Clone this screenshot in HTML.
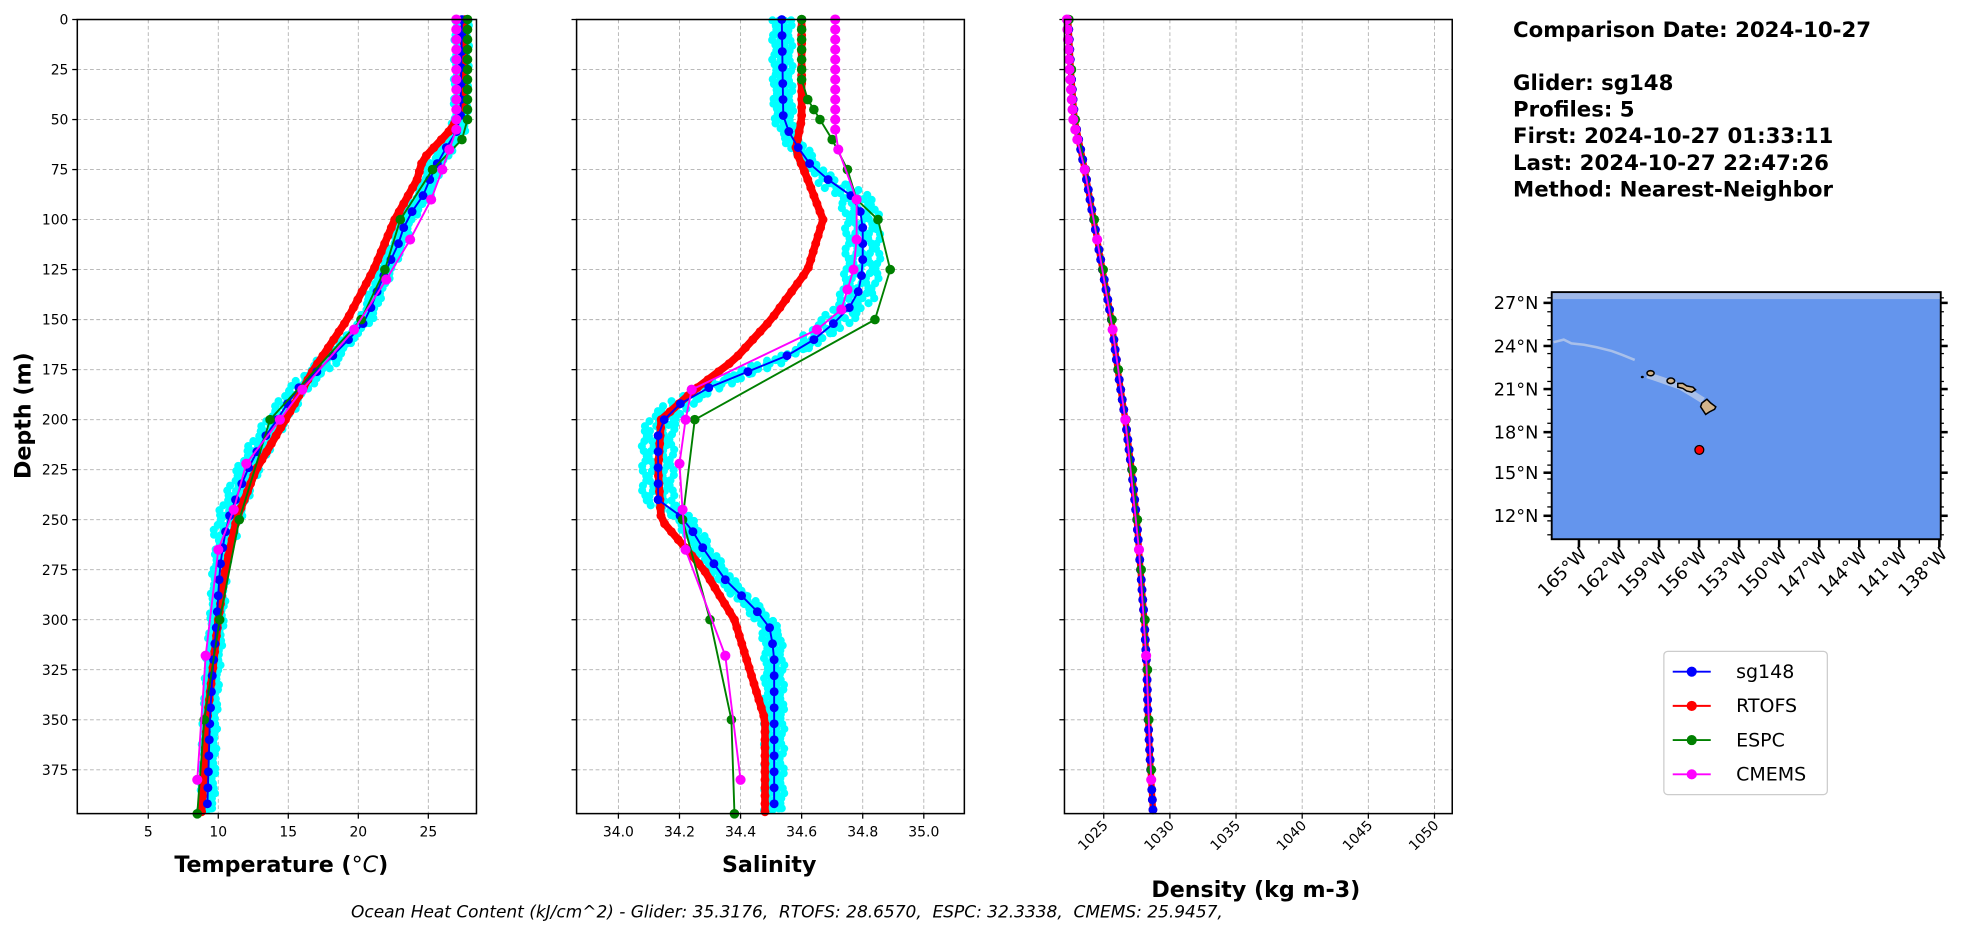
<!DOCTYPE html>
<html><head><meta charset="utf-8"><style>
html,body{margin:0;padding:0;background:#fff;}
svg{display:block;font-family:"DejaVu Sans","Liberation Sans",sans-serif;}
</style></head><body>
<svg id="s" width="1987" height="934" viewBox="0 0 1568 737" preserveAspectRatio="none" xmlns="http://www.w3.org/2000/svg">
<rect width="1568" height="737" fill="#fff"/>
<g id="g"></g>
<g font-weight="bold" font-size="16.8" fill="#000">
<text x="1194" y="29">Comparison Date: 2024-10-27</text>
<text x="1194" y="71">Glider: sg148</text>
<text x="1194" y="92">Profiles: 5</text>
<text x="1194" y="113">First: 2024-10-27 01:33:11</text>
<text x="1194" y="134">Last: 2024-10-27 22:47:26</text>
<text x="1194" y="155">Method: Nearest-Neighbor</text>
</g>
<g>
<rect x="1224.5" y="230.5" width="307" height="195" fill="#6495ED"/>
<rect x="1225" y="231" width="306" height="5" fill="#9fb8e8"/>
<path d="M1226,270 l8,-2 l6,3 l10,1 l10,2 l12,3 l8,3 l10,4" stroke="#a9c0ea" stroke-width="2" fill="none"/>
<path d="M1300,296 l12,4 l14,5 l10,6 l8,5" stroke="#a9c0ea" stroke-width="5" fill="none"/>
<ellipse cx="1302.5" cy="294.5" rx="2.8" ry="2" fill="#d2b48c" stroke="#000" stroke-width="1.2"/>
<ellipse cx="1296" cy="297.5" rx="1.2" ry="1" fill="#000"/>
<ellipse cx="1318.5" cy="300.5" rx="3" ry="2.2" fill="#d2b48c" stroke="#000" stroke-width="1.2"/>
<path d="M1324,302.5 l4,0 l3,2 l5,1 l2,2 l-3,2 l-4,-1 l-3,-2 l-4,-1z" fill="#d2b48c" stroke="#000" stroke-width="1.2"/>
<path d="M1343,318 l4,-3 l3,3 l4,3 l-1,2 l-4,2 l-3,2 l-2,-3 l-2,-3z" fill="#d2b48c" stroke="#000" stroke-width="1.2"/>
<circle cx="1341" cy="355" r="3.5" fill="#f00" stroke="#000" stroke-width="1"/>
<rect x="1224.5" y="230.5" width="307" height="195" fill="none" stroke="#000" stroke-width="1.5"/>
</g>
<g id="map"></g>
<g>
<rect x="1313" y="514" width="129" height="113" rx="3" fill="#fff" stroke="#ccc"/>
<g font-size="15" fill="#000">
<line x1="1320" y1="530" x2="1350" y2="530" stroke="#00f" stroke-width="1.5"/><circle cx="1335" cy="530" r="4" fill="#00f"/><text x="1370" y="535">sg148</text>
<line x1="1320" y1="557" x2="1350" y2="557" stroke="#f00" stroke-width="1.5"/><circle cx="1335" cy="557" r="4" fill="#f00"/><text x="1370" y="562">RTOFS</text>
<line x1="1320" y1="584" x2="1350" y2="584" stroke="#008000" stroke-width="1.5"/><circle cx="1335" cy="584" r="4" fill="#008000"/><text x="1370" y="589">ESPC</text>
<line x1="1320" y1="611" x2="1350" y2="611" stroke="#f0f" stroke-width="1.5"/><circle cx="1335" cy="611" r="4" fill="#f0f"/><text x="1370" y="616">CMEMS</text>
</g></g>
<text x="621" y="724" font-size="13.4" font-style="italic" text-anchor="middle" xml:space="preserve">Ocean Heat Content (kJ/cm^2) - Glider: 35.3176,  RTOFS: 28.6570,  ESPC: 32.3338,  CMEMS: 25.9457,</text>
<text x="222" y="688" font-size="17.5" font-weight="bold" text-anchor="middle">Temperature (<tspan font-style="italic" font-weight="normal">°C</tspan>)</text>
<text x="607" y="688" font-size="17.5" font-weight="bold" text-anchor="middle">Salinity</text>
<text x="991" y="708" font-size="17.5" font-weight="bold" text-anchor="middle">Density (kg m-3)</text>
<text transform="translate(24,328) rotate(-90)" font-size="17.5" font-weight="bold" text-anchor="middle">Depth (m)</text>
</svg>
<script>
const NS="http://www.w3.org/2000/svg";
const g=document.getElementById('g');
function el(t,a,p){const e=document.createElementNS(NS,t);for(const k in a)e.setAttribute(k,a[k]);(p||g).appendChild(e);return e;}
const Y0=15.4, PY=1.5787; const yD=d=>Y0+d*PY; const BOT=642;
const panels=[
 {x0:61,x1:376,f:v=>117+(v-5)*11.05,ticks:[5,10,15,20,25],lab:v=>String(v),rot:false},
 {x0:455,x1:761,f:v=>488+(v-34)*241,ticks:[34.0,34.2,34.4,34.6,34.8,35.0],lab:v=>v.toFixed(1),rot:false},
 {x0:840,x1:1146,f:v=>871+(v-1025)*10.44,ticks:[1025,1030,1035,1040,1045,1050],lab:v=>String(v),rot:true}
];
panels.forEach((p,i)=>{
 for(let d=0;d<=375;d+=25){el('line',{x1:p.x0,x2:p.x1,y1:yD(d),y2:yD(d),stroke:'#b0b0b0','stroke-width':0.7,'stroke-dasharray':'3,2'});
  el('line',{x1:p.x0-4,x2:p.x0,y1:yD(d),y2:yD(d),stroke:'#000','stroke-width':1});
  if(i==0){const t=el('text',{x:p.x0-7,y:yD(d)+4,'font-size':11,'text-anchor':'end'});t.textContent=d;}}
 p.ticks.forEach(v=>{const x=p.f(v);el('line',{x1:x,x2:x,y1:Y0,y2:BOT,stroke:'#b0b0b0','stroke-width':0.7,'stroke-dasharray':'3,2'});
  el('line',{x1:x,x2:x,y1:BOT,y2:BOT+4,stroke:'#000','stroke-width':1});
  if(p.rot){const t=el('text',{transform:`translate(${x+4},${BOT+10}) rotate(-45)`,'font-size':11,'text-anchor':'end'});t.textContent=p.lab(v);}
  else{const t=el('text',{x:x,y:BOT+18,'font-size':11,'text-anchor':'middle'});t.textContent=p.lab(v);}});
});
function pts(p,arr){return arr.map(a=>[p.f(a[1]),yD(a[0])]);}
function line(P,c,w,mr){el('polyline',{points:P.map(q=>q.join(',')).join(' '),fill:'none',stroke:c,'stroke-width':w,'stroke-linejoin':'round'});
 if(mr)P.forEach(q=>el('circle',{cx:q[0],cy:q[1],r:mr,fill:c}));}
function range(a,b,s,fn){const r=[];for(let d=a;d<=b;d+=s)r.push([d,fn(d)]);return r;}
function interp(arr,d){for(let i=1;i<arr.length;i++)if(d<=arr[i][0]){const a=arr[i-1],b=arr[i];return a[1]+(b[1]-a[1])*(d-a[0])/(b[0]-a[0]);}return arr[arr.length-1][1];}
function dens(arr,s){return range(0,397,s,d=>interp(arr,d));}
function cyan(p,base,spread){for(let d=0;d<=397;d+=2.5){const v=interp(base,d);const s=spread(d);for(let k=-1;k<=1;k+=0.5){const x=p.f(v+k*s)+(Math.sin(d*3.1+k*7))*2;el('circle',{cx:x,cy:yD(d)+Math.cos(d*5+k)*1.2,r:3.2,fill:'#00ffff'});}}}
const P=panels;
const Tb=[[0,27.4],[50,27.3],[55,27.1],[65,26.2],[75,25.4],[90,24.5],[100,23.4],[110,23],[125,22],[140,21.1],[150,20.6],[160,19.3],[175,17.2],[185,15.6],[200,14.2],[210,13.2],[225,12.1],[235,11.5],[250,10.7],[260,10.4],[275,10.1],[300,9.9],[325,9.6],[350,9.4],[375,9.3],[397,9.2]];
const Tr=[[0,27.6],[45,27.5],[55,26.6],[70,24.6],[80,24.2],[100,22.6],[125,21.1],[150,19.2],[175,16.8],[200,14.8],[225,12.7],[250,11.3],[275,10.5],[300,10],[350,9.2],[397,8.8]];
cyan(P[0],Tb,d=>d>165&&d<260?0.7:0.35);
line(pts(P[0],dens(Tr,4)),'#f00',6,3.5);
line(pts(P[0],dens(Tb,8)),'#00f',1.5,3.5);
line(pts(P[0],[...range(0,50,5,()=>27.8),[60,27.4],[75,25.3],[100,23],[125,21.9],[150,20.2],[200,13.7],[250,11.5],[300,10.1],[350,9.0],[397,8.5]]),'#008000',1.5,3.8);
line(pts(P[0],[...range(0,55,5,()=>27.0),[65,26.5],[75,26],[90,25.2],[110,23.7],[130,22],[155,19.7],[185,16],[200,14.4],[222,12],[245,11.1],[265,10],[318,9.1],[380,8.5]]),'#f0f',1.5,4);
const Sb=[[0,34.535],[50,34.54],[60,34.57],[75,34.64],[90,34.78],[100,34.8],[125,34.8],[140,34.78],[150,34.72],[165,34.6],[185,34.28],[195,34.17],[205,34.13],[240,34.13],[250,34.22],[265,34.28],[280,34.35],[295,34.45],[305,34.5],[320,34.51],[397,34.51]];
const Sr=[[0,34.6],[50,34.6],[65,34.58],[80,34.62],[100,34.67],[125,34.62],[150,34.5],[170,34.38],[185,34.25],[200,34.14],[225,34.13],[250,34.14],[275,34.28],[300,34.38],[335,34.45],[350,34.48],[397,34.48]];
cyan(P[1],Sb,d=>d>170&&d<245?0.045:(d>80&&d<160?0.05:0.025));
line(pts(P[1],dens(Sr,4)),'#f00',6,3.5);
line(pts(P[1],dens(Sb,8)),'#00f',1.5,3.5);
line(pts(P[1],[...range(0,30,5,()=>34.6),[40,34.62],[45,34.64],[50,34.66],[60,34.7],[75,34.75],[90,34.78],[100,34.85],[125,34.89],[150,34.84],[200,34.25],[250,34.21],[300,34.3],[350,34.37],[397,34.38]]),'#008000',1.5,3.8);
line(pts(P[1],[...range(0,55,5,()=>34.71),[65,34.72],[90,34.78],[110,34.78],[125,34.77],[135,34.75],[145,34.73],[155,34.65],[185,34.24],[200,34.22],[222,34.2],[245,34.21],[265,34.22],[318,34.35],[380,34.4]]),'#f0f',1.5,4);
const Dx=[[0,843],[25,845],[50,848],[75,856],[100,863],[125,870],[150,877],[175,882],[200,888],[225,893],[250,897],[275,900],[300,903],[325,905],[350,906],[375,908],[397,910]];
const Dd=Dx.map(a=>[a[0],1025+(a[1]-871)/10.44]);
const dense=range(0,397,5,d=>interp(Dd,d));
line(pts(P[2],dense),'#f00',5,3.5);
line(pts(P[2],dense),'#00f',1.5,3.5);
line(pts(P[2],range(0,397,25,d=>interp(Dd,d)+0.05)),'#008000',1.5,3.8);
line(pts(P[2],range(0,60,5,d=>interp(Dd,d)-0.1).concat([[75,interp(Dd,75)],[110,interp(Dd,110)],[155,interp(Dd,155)],[200,interp(Dd,200)],[265,interp(Dd,265)],[318,interp(Dd,318)],[380,interp(Dd,380)]])),'#f0f',1.5,4);
panels.forEach(p=>el('rect',{x:p.x0,y:Y0,width:p.x1-p.x0,height:BOT-Y0,fill:'none',stroke:'#000','stroke-width':1.2}));
const m=document.getElementById('map');
const lats=[[27,239],[24,273],[21,307],[18,341],[15,373],[12,407]];
lats.forEach(l=>{el('line',{x1:1218,x2:1224,y1:l[1],y2:l[1],stroke:'#000','stroke-width':2},m);el('line',{x1:1531,x2:1537,y1:l[1],y2:l[1],stroke:'#000','stroke-width':2},m);
 const t=el('text',{x:1214,y:l[1]+5,'font-size':14,'text-anchor':'end'},m);t.textContent=l[0]+'°N';});
for(let y=235;y<426;y+=11){el('line',{x1:1221,x2:1224,y1:y,y2:y,stroke:'#000','stroke-width':1},m);el('line',{x1:1531,x2:1534,y1:y,y2:y,stroke:'#000','stroke-width':1},m);}
for(let i=0;i<10;i++){const x=1246+i*31.6;el('line',{x1:x,x2:x,y1:426,y2:432,stroke:'#000','stroke-width':2},m);
 if(i<9)el('line',{x1:x+15.8,x2:x+15.8,y1:426,y2:429,stroke:'#000','stroke-width':1},m);
 const t=el('text',{transform:`translate(${x+7},${438}) rotate(-45)`,'font-size':14,'text-anchor':'end'},m);t.textContent=(165-3*i)+'°W';}
</script>
</body></html>
